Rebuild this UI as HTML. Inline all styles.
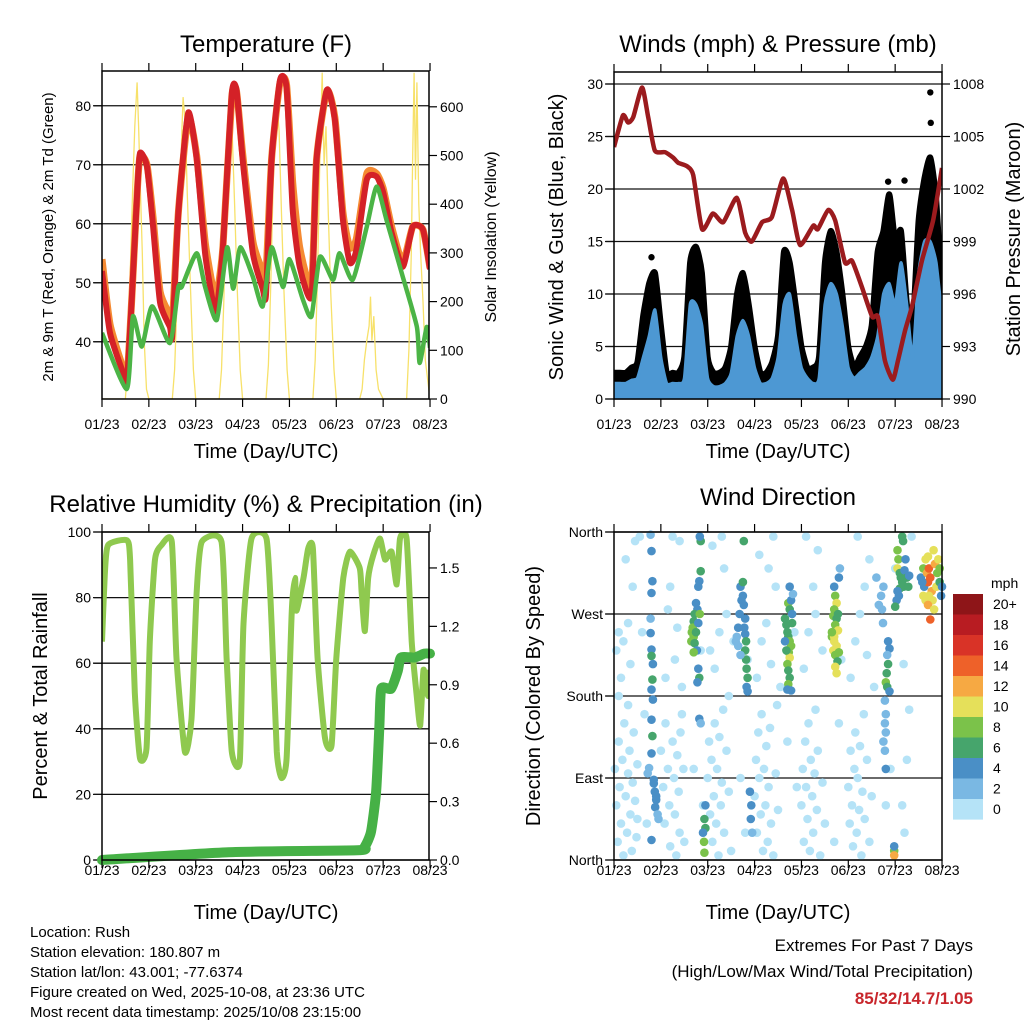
<!DOCTYPE html>
<html><head><meta charset="utf-8"><style>
html,body{margin:0;padding:0;background:#fff;}
svg{display:block;font-family:"Liberation Sans",sans-serif;}
</style></head><body>
<svg id="chart" width="1024" height="1024" viewBox="0 0 1024 1024" xmlns="http://www.w3.org/2000/svg">
<defs>
<clipPath id="c1"><rect x="102" y="71" width="327" height="328"/></clipPath>
<clipPath id="c2"><rect x="614" y="72" width="328" height="327"/></clipPath>
<clipPath id="c3"><rect x="102" y="532" width="327" height="328"/></clipPath>
<clipPath id="c4"><rect x="608" y="526" width="340" height="340"/></clipPath>
</defs>
<g id="layer"></g>
<text x="266" y="52" font-size="24" text-anchor="middle">Temperature (F)</text>
<text x="778" y="52" font-size="24" text-anchor="middle">Winds (mph) &amp; Pressure (mb)</text>
<text x="266" y="512" font-size="24" text-anchor="middle">Relative Humidity (%) &amp; Precipitation (in)</text>
<text x="778" y="505" font-size="24" text-anchor="middle">Wind Direction</text>
<text x="266" y="458" font-size="20" text-anchor="middle">Time (Day/UTC)</text>
<text x="778" y="458" font-size="20" text-anchor="middle">Time (Day/UTC)</text>
<text x="266" y="919" font-size="20" text-anchor="middle">Time (Day/UTC)</text>
<text x="778" y="919" font-size="20" text-anchor="middle">Time (Day/UTC)</text>
<text transform="translate(53,237) rotate(-90)" font-size="15" text-anchor="middle">2m &amp; 9m T (Red, Orange) &amp; 2m Td (Green)</text>
<text transform="translate(496,237) rotate(-90)" font-size="16" text-anchor="middle">Solar Insolation (Yellow)</text>
<text transform="translate(563,237) rotate(-90)" font-size="20" text-anchor="middle">Sonic Wind &amp; Gust (Blue, Black)</text>
<text transform="translate(1020,239) rotate(-90)" font-size="20" text-anchor="middle">Station Pressure (Maroon)</text>
<text transform="translate(47,696) rotate(-90)" font-size="20" text-anchor="middle">Percent &amp; Total Rainfall</text>
<text transform="translate(540,696) rotate(-90)" font-size="20" text-anchor="middle">Direction (Colored By Speed)</text>
<g font-size="15">
<text x="30" y="937">Location: Rush</text>
<text x="30" y="957">Station elevation: 180.807 m</text>
<text x="30" y="977">Station lat/lon: 43.001; -77.6374</text>
<text x="30" y="997">Figure created on Wed, 2025-10-08, at 23:36 UTC</text>
<text x="30" y="1017">Most recent data timestamp: 2025/10/08 23:15:00</text>
</g>
<g text-anchor="end">
<text x="973" y="951" font-size="17">Extremes For Past 7 Days</text>
<text x="973" y="977" font-size="17">(High/Low/Max Wind/Total Precipitation)</text>
<text x="973" y="1004" font-size="17" font-weight="bold" fill="#c8262c">85/32/14.7/1.05</text>
</g>
</svg>
<script>
// ---------- data ----------
const xTickLabels = ["01/23","02/23","03/23","04/23","05/23","06/23","07/23","08/23"];
const tempTicks = [40,50,60,70,80];
const solarTicks = [0,100,200,300,400,500,600];
const windTicks = [0,5,10,15,20,25,30];
const presTicks = [990,993,996,999,1002,1005,1008];
const rhTicks = [0,20,40,60,80,100];
const precipTicks = ["0.0","0.3","0.6","0.9","1.2","1.5"];
const dirLabels = ["North","East","South","West","North"];
const speedLabels = ["20+","18","16","14","12","10","8","6","4","2","0"];
const speedColors = ["#8e1518","#b81c22","#d93327","#ee6129","#f6a943","#e5e05a","#7bc24a","#46a56c","#4a8fc6","#7ab8e3","#b5e3f7"];

const tDays = [0,0.17,0.45,0.53,0.64,0.75,0.81,0.96,1.09,1.24,1.45,1.5,1.63,1.84,2.02,2.2,2.37,2.45,2.58,2.77,2.87,3.0,3.22,3.43,3.5,3.62,3.8,3.94,4.07,4.22,4.47,4.58,4.8,4.97,5.14,5.29,5.43,5.65,5.86,6.0,6.18,6.42,6.63,6.85,7.0];
const tempRed = [52,41.5,34.7,33,48,65,72,69.7,59.5,46.6,42.5,41,62,78.8,71,55,46.6,45.5,56,82,82.7,71,55,49,48,71,84.4,83,62.4,52.7,47.7,71,82.7,77.6,60.7,53.4,55.6,67.5,68,65.3,58.5,52.7,59.5,59,52.3];
const tempOrange = [54,43,35.5,33.5,48,65,71.5,70,61,48.5,44.5,43,62,78,71.5,57,49,48,56,81.5,82.5,72,57,52,51.5,71,84,83.5,67,56,49.5,71,82.5,78,62,56,57.5,68.5,68.5,66,59.5,53.5,59.5,59,52.5];
const tdDays = [0,0.53,0.66,0.85,1.07,1.45,1.63,1.7,2.02,2.2,2.45,2.67,2.8,2.95,3.22,3.43,3.62,3.86,4.0,4.29,4.47,4.65,4.93,5.07,5.35,5.65,5.86,6.07,6.42,6.72,6.78,6.93,7.0];
const dewpoint = [41.5,32,44.3,39.2,46,39.8,49.3,49.3,55,49.3,43.7,56,49,56,51,46,56,49.3,54,47.1,44.3,54.4,50.5,55,50.5,59.5,66.3,60.7,51,42.5,36.4,42.5,39];
const solarDays = [0,0.5,0.55,0.6,0.65,0.7,0.75,0.78,0.82,0.86,0.9,0.95,1.0,1.5,1.55,1.6,1.65,1.7,1.73,1.78,1.82,1.88,1.95,2.0,2.5,2.55,2.6,2.65,2.7,2.74,2.78,2.83,2.88,2.95,3.0,3.5,3.55,3.6,3.65,3.7,3.74,3.78,3.83,3.88,3.95,4.0,4.5,4.55,4.6,4.65,4.7,4.74,4.78,4.83,4.88,4.95,5.0,5.5,5.55,5.6,5.65,5.7,5.73,5.76,5.8,5.85,5.9,6.0,6.5,6.55,6.6,6.63,6.66,6.69,6.72,6.76,6.8,6.85,6.9,7.0];
const solar = [0,0,80,250,420,560,650,560,430,300,120,20,0,0,60,200,380,540,620,560,420,250,60,0,0,60,200,400,560,590,540,400,240,60,0,0,70,230,430,580,600,550,380,230,60,0,0,80,260,500,670,480,560,380,220,60,0,0,20,80,120,150,210,120,170,60,20,0,0,100,300,500,670,450,650,400,300,200,80,0];

const presDays = [0,0.19,0.3,0.41,0.6,0.73,0.87,1.09,1.26,1.37,1.56,1.69,1.88,2.11,2.33,2.62,2.8,2.94,3.16,3.37,3.61,3.8,3.97,4.25,4.35,4.57,4.72,4.93,5.08,5.29,5.51,5.63,5.78,5.95,6.06,6.21,6.36,6.57,6.81,7.0];
const pressure = [1004.4,1006.2,1005.8,1006.1,1007.8,1006.1,1004.2,1004.1,1003.8,1003.5,1003.3,1002.8,999.7,1000.6,1000.1,1001.5,999.5,999.0,1000.1,1000.4,1002.6,1000.8,998.8,999.9,999.7,1000.8,1000.2,997.8,997.9,996.4,994.7,994.7,992.2,991.1,992.2,993.9,995.3,997.9,1000.2,1003.2];
const windDays = [0,0.125,0.25,0.375,0.5,0.625,0.75,0.875,1,1.125,1.25,1.375,1.5,1.625,1.75,1.875,2,2.125,2.25,2.375,2.5,2.625,2.75,2.875,3,3.125,3.25,3.375,3.5,3.625,3.75,3.875,4,4.125,4.25,4.375,4.5,4.625,4.75,4.875,5,5.125,5.25,5.375,5.5,5.625,5.75,5.875,6,6.125,6.25,6.375,6.5,6.625,6.75,6.875,7];
const windSpeed = [1.5,1.5,1.5,1.8,2,4,6,8.5,4,1.5,1.5,1.5,2,9,9,7,2,1.2,1.2,1.5,2.5,6,7.5,6,3,1.5,1.5,2,4,9,10,6,3,2,1.5,2,9,11,10,7,3,2,2.5,3,4,6,10,11,9,13,9,4,12,15,15,13,8];
const windGust = [2.5,2.5,2.5,3,3.5,8,11,12,7,2.5,2.5,2.5,4,13,14.5,12,4,2.5,2.5,3,5,10,12,9,5,2.5,2.5,3.5,6,14,13,9,5,3,3,4,13,16,14,10,5,3,4,5,7,14,16,19.5,15,16,9,7,17,21,23,19,10];
const gustOutDays = [0.8,6.75,6.76,5.85,6.2];
const gustOutVals = [13.5,29.2,26.3,20.7,20.8];

const rhDays = [0,0.06,0.13,0.53,0.6,0.7,0.81,0.95,1.02,1.13,1.27,1.49,1.59,1.77,1.91,2.02,2.13,2.55,2.66,2.77,2.94,3.02,3.19,3.51,3.62,3.73,3.83,3.94,4.05,4.12,4.15,4.3,4.4,4.5,4.6,4.76,4.9,5.0,5.15,5.29,5.5,5.54,5.61,5.68,5.79,5.93,6.04,6.18,6.29,6.36,6.5,6.61,6.71,6.79,6.86,6.96,7.0];
const rh = [66.6,87,96,97.5,91.6,51,31,34,66.6,91.6,96,97,61.5,33,43,81.8,97,97,61.5,33,30,72,98,98,72,33,25,31,76,86,76,86,95,95,61.5,37,35,61.5,86,94,89,81.8,69.8,86,93,98,91.6,94,84,98,98,66.6,51,41,58,50,58];
const precipDays = [0,2.7,5.45,5.61,5.74,5.85,5.92,5.96,6.17,6.31,6.38,6.67,6.88,7.0];
const precip = [0,0.04,0.05,0.07,0.145,0.35,0.69,0.88,0.88,0.97,1.04,1.04,1.06,1.06];

const dirDays = [0.02,0.05,0.08,0.1,0.12,0.15,0.18,0.2,0.22,0.25,0.28,0.3,0.33,0.35,0.38,0.4,0.42,0.45,0.48,0.5,0.05,0.1,0.2,0.3,0.35,0.15,0.25,0.4,0.45,0.55,0.1,0.3,0.5,
1.0,1.05,1.08,1.1,1.15,1.18,1.2,1.25,1.28,1.3,1.33,1.35,1.38,1.4,1.42,1.45,1.48,1.5,1.1,1.2,1.3,1.35,1.4,1.25,1.45,1.15,
2.0,2.03,2.05,2.08,2.1,2.13,2.15,2.18,2.2,2.23,2.25,2.28,2.3,2.33,2.35,2.4,2.45,2.5,2.05,2.15,2.25,2.35,2.45,2.1,2.3,2.4,2.55,
3.0,3.03,3.05,3.08,3.1,3.13,3.15,3.18,3.2,3.23,3.25,3.28,3.3,3.33,3.35,3.4,3.45,3.48,3.5,3.05,3.15,3.25,3.35,3.1,3.3,3.45,3.4,3.55,
4.0,4.03,4.05,4.08,4.1,4.13,4.15,4.18,4.2,4.23,4.25,4.28,4.3,4.33,4.35,4.4,4.45,4.5,4.05,4.15,4.25,4.35,4.1,4.45,4.3,
5.0,5.03,5.05,5.08,5.1,5.13,5.15,5.18,5.2,5.23,5.25,5.28,5.3,5.33,5.35,5.4,5.45,5.5,5.05,5.15,5.25,5.35,5.45,5.2,5.4,5.55,
6.15,6.2,6.25,6.3,6.18,6.35,6.0,0.7,0.65,1.7,1.9,2.7,2.8,3.7,3.9,4.7,4.8,5.8,5.9,0.6,1.85,2.85,3.85,4.85,
0.78,0.8,0.82,0.8,0.78,0.8,0.8,0.82,0.8,0.83,0.8,0.82,0.8,0.75,0.72,0.85,0.87,0.9,0.88,0.93,0.95,0.85,0.9,0.8,0.83,0.78,
1.85,1.83,1.85,1.82,1.8,1.75,1.78,1.72,1.7,1.68,1.66,1.7,1.65,1.72,1.77,1.8,1.83,1.75,1.7,1.8,1.82,1.78,1.82,1.85,1.95,1.93,1.95,1.92,1.93,1.9,
2.7,2.72,2.68,2.65,2.62,2.6,2.75,2.77,2.8,2.78,2.8,2.82,2.8,2.82,2.83,2.85,2.83,2.85,2.77,2.75,2.9,2.93,2.92,2.95,2.7,2.65,
3.72,3.75,3.78,3.8,3.65,3.68,3.7,3.72,3.75,3.78,3.73,3.75,3.7,3.72,3.75,3.72,3.7,3.78,3.8,3.65,3.68,3.82,3.75,
4.7,4.72,4.75,4.7,4.68,4.75,4.72,4.78,4.65,4.7,4.75,4.68,4.72,4.8,4.77,4.72,4.75,4.7,4.8,4.82,4.65,4.78,
5.85,5.88,5.83,5.85,5.82,5.8,5.83,5.88,5.78,5.8,5.78,5.8,5.75,5.78,5.8,5.75,5.7,5.72,5.74,5.6,5.65,5.98,5.98,5.98,
6.05,6.07,6.05,6.1,6.12,6.15,6.18,6.1,6.05,6.08,6.03,6.0,6.2,6.25,6.22,6.28,6.15,6.17,6.3,
6.55,6.6,6.62,6.65,6.68,6.7,6.72,6.75,6.78,6.8,6.72,6.85,6.88,6.9,6.92,6.95,6.98,6.6,6.65,6.58,6.7,6.82,6.95,6.75,6.7,6.83,7.0];
const dirDeg = [100,60,20,130,80,40,110,5,150,70,30,95,120,50,10,85,140,65,25,105,230,250,240,260,215,200,330,300,350,355,180,170,45,
120,80,40,150,100,60,15,130,90,50,5,115,75,30,140,160,100,20,200,300,220,255,350,355,190,275,
90,130,50,110,20,70,150,40,100,5,135,60,85,165,30,120,75,10,230,210,250,320,180,345,355,270,240,
70,110,30,140,90,50,160,10,100,60,125,20,80,145,40,5,95,170,55,200,240,260,215,335,320,300,355,190,
60,100,20,130,80,45,150,10,110,70,30,95,165,55,120,5,85,40,210,250,300,340,355,230,270,
80,40,120,60,15,100,140,30,90,55,125,5,75,160,45,110,20,70,200,240,270,300,330,355,225,190,
60,30,110,165,215,355,320,40,160,100,60,90,30,130,80,20,150,60,100,250,230,220,250,220,
357,339,306,293,249,231,224,198,187,176,154,136,117,101,95,84,75,66,58,50,45,88,70,22,215,265,
350,355,317,306,300,282,275,270,262,255,250,245,240,238,230,260,270,250,228,210,200,195,155,150,60,45,35,20,8,30,
300,285,270,255,245,240,290,280,265,255,248,240,230,220,210,200,190,185,350,305,75,60,45,30,225,235,
282,275,285,270,265,258,250,245,240,235,228,222,215,208,200,193,187,186,260,240,230,292,300,
300,290,282,275,268,265,258,252,245,240,235,230,225,228,218,212,205,245,310,320,250,270,
240,232,225,215,205,195,190,185,175,160,150,140,130,120,100,300,290,275,260,310,280,10,5,15,
340,330,320,315,310,305,300,298,295,290,285,278,318,310,330,300,355,350,312,
310,320,300,330,315,305,320,310,295,285,290,325,300,315,330,305,290,290,285,305,333,340,320,264,280,275,300];
const dirSpeed = [1,1,1,1,1,1,1,1,1,1,1,1,1,1,1,1,1,1,1,1,1,1,1,1,1,1,1,1,1,1,1,1,1,
1,1,1,1,1,1,1,1,1,1,1,1,1,1,1,1,1,1,1,1,1,1,1,1,1,1,
1,1,1,1,1,1,1,1,1,1,1,1,1,1,1,1,1,1,1,1,1,1,1,1,1,1,1,
1,1,1,1,1,1,1,1,1,1,1,1,1,1,1,1,1,1,1,1,1,1,1,1,1,1,1,1,
1,1,1,1,1,1,1,1,1,1,1,1,1,1,1,1,1,1,1,1,1,1,1,1,1,
1,1,1,1,1,1,1,1,1,1,1,1,1,1,1,1,1,1,1,1,1,1,1,1,1,1,
1,1,1,1,1,1,1,1,1,1,1,1,1,1,1,1,1,1,1,1,1,1,1,1,
3,4,4,4,4,4,7,6,4,4,4,6,4,3,3,4,4,4,4,3,3,4,5,4,4,3,
6,4,7,4,4,4,5,6,7,8,9,8,9,7,5,5,8,6,8,4,6,4,4,3,4,6,6,8,8,4,
4,4,4,4,3,3,4,5,4,5,4,6,6,6,6,6,5,4,6,6,4,4,4,3,2,2,
8,6,4,4,6,7,6,6,8,9,8,10,8,7,6,8,5,4,6,4,7,3,4,
4,8,10,9,8,7,9,10,9,10,11,10,9,8,7,10,10,11,4,3,8,6,
4,4,3,6,7,8,6,4,3,3,3,3,3,3,4,2,2,2,2,2,2,8,12,4,
8,9,10,6,6,6,7,6,4,4,4,6,4,6,4,7,6,7,4,
4,8,4,10,12,14,15,14,12,11,10,12,10,8,10,6,4,10,11,5,11,10,9,15,13,10,4];

// ---------- helpers ----------
const NS = "http://www.w3.org/2000/svg";
const root = document.getElementById("layer");
function mk(tag, attrs, parent) {
  const e = document.createElementNS(NS, tag);
  for (const k in attrs) e.setAttribute(k, attrs[k]);
  (parent || root).appendChild(e);
  return e;
}
function txt(str, x, y, size, anchor, parent) {
  const t = mk("text", {x: x, y: y, "font-size": size, "text-anchor": anchor}, parent);
  t.textContent = str;
  return t;
}
function pathFrom(xs, ys, fx, fy) {
  let d = "";
  for (let i = 0; i < xs.length; i++) d += (i ? "L" : "M") + fx(xs[i]).toFixed(1) + "," + fy(ys[i]).toFixed(1);
  return d;
}
function smoothFrom(xs, ys, fx, fy) {
  const P = xs.map((x, i) => [fx(x), fy(ys[i])]);
  let d = "M" + P[0][0].toFixed(1) + "," + P[0][1].toFixed(1);
  for (let i = 0; i < P.length - 1; i++) {
    const p0 = P[Math.max(0, i - 1)], p1 = P[i], p2 = P[i + 1], p3 = P[Math.min(P.length - 1, i + 2)];
    const t = 0.1;
    const c1 = [p1[0] + (p2[0] - p0[0]) * t, p1[1] + (p2[1] - p0[1]) * t];
    const c2 = [p2[0] - (p3[0] - p1[0]) * t, p2[1] - (p3[1] - p1[1]) * t];
    d += "C" + c1[0].toFixed(1) + "," + c1[1].toFixed(1) + " " + c2[0].toFixed(1) + "," + c2[1].toFixed(1) + " " + p2[0].toFixed(1) + "," + p2[1].toFixed(1);
  }
  return d;
}
function frame(x0, x1, y0, y1, name) {
  const r = mk("rect", {x: x0, y: y0, width: x1 - x0, height: y1 - y0, fill: "none", stroke: "#000", "stroke-width": 1.5});
  
  
}
function xAxis(x0, y0, y1, name, labOff) {
  const g = mk("g", {});
  
  
  for (let i = 0; i < xTickLabels.length; i++) {
    const x = x0 + i * 46.86;
    mk("line", {x1: x, x2: x, y1: y1, y2: y1 + 8, stroke: "#000", "stroke-width": 1.2}, g);
    mk("line", {x1: x, x2: x, y1: y0, y2: y0 - 8, stroke: "#000", "stroke-width": 1.2}, g);
    txt(xTickLabels[i], x, y1 + labOff, 14, "middle", g);
  }
}
function yAxis(vals, labels, fy, x, side, name, x0, x1, grid) {
  const g = mk("g", {});
  
  
  for (let i = 0; i < vals.length; i++) {
    const y = fy(vals[i]);
    if (side < 0) {
      mk("line", {x1: x - 8, x2: x, y1: y, y2: y, stroke: "#000", "stroke-width": 1.2}, g);
      txt(String(labels[i]), x - 11, y + 5, 14, "end", g);
      if (grid) mk("line", {x1: x0, x2: x1, y1: y, y2: y, stroke: "#111", "stroke-width": 1.3}, g);
    } else {
      mk("line", {x1: x, x2: x + 8, y1: y, y2: y, stroke: "#000", "stroke-width": 1.2}, g);
      txt(String(labels[i]), x + 11, y + 5, 14, "start", g);
    }
  }
}

// ---------- panel 1: temperature ----------
const p1x = d => 102 + d * 46.86;
const p1t = v => 399 - (v - 30.3) * 5.9;
const p1s = v => 399 - v * 0.487;
yAxis(tempTicks, tempTicks, p1t, 102, -1, "temp-y-axis", 93, 429, true);
yAxis(solarTicks, solarTicks, p1s, 429, 1, "solar-y-axis");
const g1 = mk("g", {"clip-path": "url(#c1)"});
const solarLine = mk("path", {d: pathFrom(solarDays, solar, p1x, p1s), fill: "none", stroke: "#f7e16a", "stroke-width": 1.3}, g1);


const orangeLine = mk("path", {d: smoothFrom(tDays, tempOrange, p1x, p1t), fill: "none", stroke: "#f58a32", "stroke-width": 7, "stroke-linejoin": "round"}, g1);


const redLine = mk("path", {d: smoothFrom(tDays, tempRed, p1x, p1t), fill: "none", stroke: "#d42127", "stroke-width": 6, "stroke-linejoin": "round"}, g1);


const greenLine = mk("path", {d: smoothFrom(tdDays, dewpoint, p1x, p1t), fill: "none", stroke: "#4bb446", "stroke-width": 4.5, "stroke-linejoin": "round"}, g1);


frame(102, 429, 71, 399, "temperature-plot-frame");
xAxis(102, 71, 399, "temp-x-axis", 30);

// ---------- panel 2: winds & pressure ----------
const p2x = d => 614 + d * 46.86;
const p2w = v => 399 - v * 10.5;
const p2p = v => 399 - (v - 990) * 17.5;
yAxis(windTicks, windTicks, p2w, 614, -1, "wind-y-axis", 605, 942, true);
yAxis(presTicks, presTicks, p2p, 942, 1, "pressure-y-axis");
const g2 = mk("g", {"clip-path": "url(#c2)"});
const gustArea = mk("path", {d: smoothFrom(windDays, windGust, p2x, p2w) + "L" + p2x(7) + "," + p2w(0) + "L" + p2x(0) + "," + p2w(0) + "Z", fill: "#000", stroke: "#000", "stroke-width": 6, "stroke-linejoin": "round"}, g2);


for (let i = 0; i < gustOutDays.length; i++) {
  const c = mk("circle", {cx: p2x(gustOutDays[i]), cy: p2w(gustOutVals[i]), r: 3.2, fill: "#000"}, g2);
  
  
}
const windArea = mk("path", {d: smoothFrom(windDays, windSpeed, p2x, p2w) + "L" + p2x(7) + "," + p2w(0) + "L" + p2x(0) + "," + p2w(0) + "Z", fill: "#4d98d3", stroke: "#4d98d3", "stroke-width": 3, "stroke-linejoin": "round"}, g2);


const presLine = mk("path", {d: smoothFrom(presDays, pressure, p2x, p2p), fill: "none", stroke: "#9b1b1e", "stroke-width": 4.5, "stroke-linejoin": "round"}, g2);


frame(614, 942, 72, 399, "winds-plot-frame");
xAxis(614, 72, 399, "winds-x-axis", 30);

// ---------- panel 3: RH & precip ----------
const p3x = d => 102 + d * 46.86;
const p3r = v => 860 - v * 3.28;
const p3p = v => 860 - v * 194.7;
yAxis(rhTicks, rhTicks, p3r, 102, -1, "humidity-y-axis", 93, 429, true);
yAxis(precipTicks.map(Number), precipTicks, p3p, 429, 1, "precip-y-axis");
const g3 = mk("g", {"clip-path": "url(#c3)"});
const rhLine = mk("path", {d: smoothFrom(rhDays, rh, p3x, p3r), fill: "none", stroke: "#8fc94f", "stroke-width": 6, "stroke-linejoin": "round"}, g3);


const g3b = mk("g", {});
const pLine = mk("path", {d: smoothFrom(precipDays, precip, p3x, p3p), fill: "none", stroke: "#46b146", "stroke-width": 10, "stroke-linejoin": "round", "stroke-linecap": "round"}, g3b);


frame(102, 429, 532, 860, "humidity-plot-frame");
xAxis(102, 532, 860, "humidity-x-axis", 15);

// ---------- panel 4: wind direction ----------
const p4x = d => 614 + d * 46.86;
const p4d = v => 860 - v * 328 / 360;
yAxis([0, 90, 180, 270, 360], dirLabels, p4d, 614, -1, "direction-y-axis", 605, 942, true);
const g4 = mk("g", {"clip-path": "url(#c4)"});
function speedColor(s) { const idx = Math.min(10, Math.floor(s / 2)); return speedColors[10 - idx]; }
for (let i = 0; i < dirDays.length; i++) {
  const c = mk("circle", {cx: p4x(dirDays[i]).toFixed(1), cy: p4d(dirDeg[i]).toFixed(1), r: 4.3, fill: speedColor(dirSpeed[i])}, g4);
  
  
}
frame(614, 942, 532, 860, "direction-plot-frame");
xAxis(614, 532, 860, "direction-x-axis", 15);

// colorbar
const cb = mk("g", {});


txt("mph", 991, 588, 14, "start", cb);
for (let i = 0; i < speedColors.length; i++) {
  const r = mk("rect", {x: 953, y: 594 + i * 20.5, width: 30, height: 20.6, fill: speedColors[i]}, cb);
  
  
  txt(speedLabels[i], 993, 609 + i * 20.5, 14, "start", cb);
}
</script>
</body></html>
